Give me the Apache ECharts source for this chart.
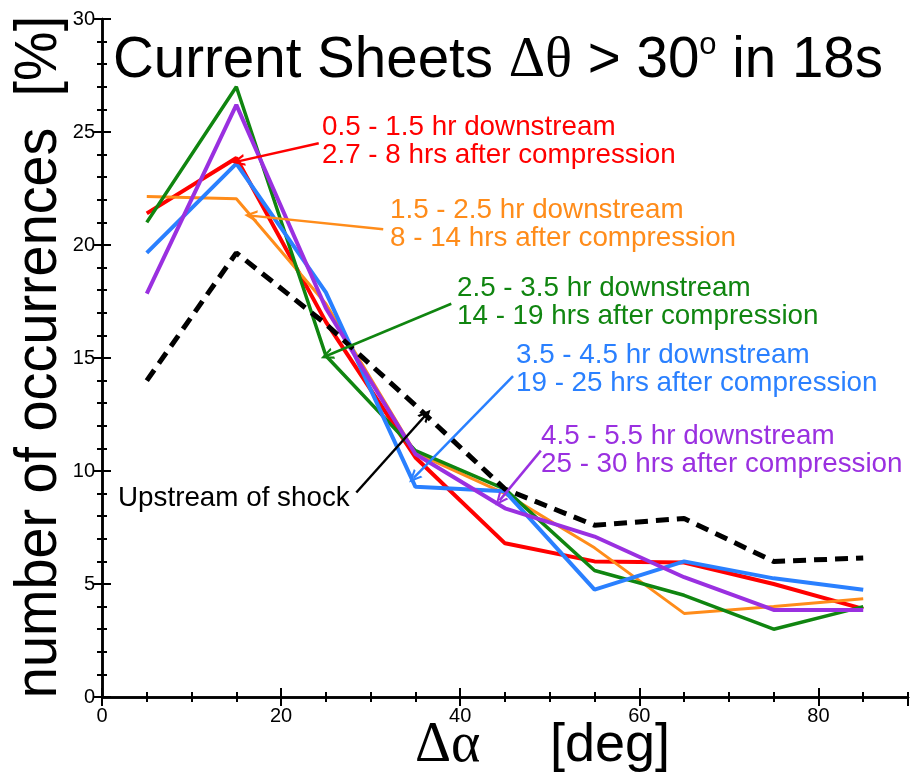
<!DOCTYPE html>
<html>
<head>
<meta charset="utf-8">
<script src="https://cdn.jsdelivr.net/npm/echarts@6/dist/echarts.min.js"></script>
<style>
html, body { margin: 0; padding: 0; background: #fff; }
#chart { width: 910px; height: 783px; }
</style>
</head>
<body>
<div id="chart"></div>
<script>
// bin centres of delta alpha [deg]
const angles = [5, 15, 25, 35, 45, 55, 65, 75, 85]

// occurrence [%] per bin
const red = [21.4, 23.85, 16.6, 10.6, 6.8, 6.0, 5.95, 5.0, 3.9]
const orange = [22.15, 22.05, 17.4, 10.8, 9.0, 6.6, 3.7, 4.0, 4.35]
const green = [21.0, 27.0, 15.1, 10.9, 9.2, 5.6, 4.5, 3.0, 4.0]
const blue = [19.65, 23.6, 17.9, 9.3, 9.1, 4.75, 6.0, 5.25, 4.75]
const purple = [17.85, 26.2, 17.2, 10.75, 8.35, 7.1, 5.3, 3.85, 3.85]
const upstream = [14.0, 19.65, 16.5, 12.9, 9.2, 7.6, 7.9, 6.0, 6.15]

const xTicks = [0, 20, 40, 60, 80]
const yTicks = [0, 5, 10, 15, 20, 25, 30]

const labelRed = ["0.5 - 1.5 hr downstream", "2.7 - 8 hrs after compression"]
const labelOrange = ["1.5 - 2.5 hr downstream", "8 - 14 hrs after compression"]
const labelGreen = ["2.5 - 3.5 hr downstream", "14 - 19 hrs after compression"]
const labelBlue = ["3.5 - 4.5 hr downstream", "19 - 25 hrs after compression"]
const labelPurple = ["4.5 - 5.5 hr downstream", "25 - 30 hrs after compression"]
const labelUpstream = "Upstream of shock"

const SANS = "'Liberation Sans', Arial, Helvetica, sans-serif"
const SERIF = "'Liberation Serif', 'Times New Roman', serif"
const V_HEAD = 'path://M5,0 L10,11 L8,11 L5,4 L2,11 L0,11 Z'

const pairs = vals => angles.map((a, i) => [a, vals[i]])

function arrow(from, to, color, width) {
    return {
        silent: true,
        symbol: ['none', V_HEAD],
        symbolSize: [12, 13],
        label: { show: false },
        lineStyle: { color: color, width: width, type: 'solid' },
        animation: false,
        data: [[{ coord: from }, { coord: to }]]
    }
}

function line(name, vals, color, width, from, to, dashed) {
    return {
        name: name,
        type: 'line',
        data: pairs(vals),
        showSymbol: false,
        animation: false,
        z: dashed ? 4 : 3,
        lineStyle: { color: color, width: width, type: dashed ? [13, 8] : 'solid', cap: 'butt' },
        markLine: arrow(from, to, color, 2.5)
    }
}

function note(lines, color, x, top) {
    return {
        type: 'text', x: x, y: top, silent: true,
        style: {
            text: Array.isArray(lines) ? lines.join('\n') : lines,
            fill: color, fontSize: 27.8, lineHeight: 28,
            fontFamily: SANS, align: 'left', verticalAlign: 'top'
        }
    }
}

const tickStyle = { color: '#000', width: 2 }
const border = { show: true, lineStyle: { color: '#000', width: 2.5 } }
// negative length turns the ticks toward the plot area
const bigTick = { inside: false, length: -9, lineStyle: tickStyle }
const smallTick = { inside: false, length: -5, lineStyle: tickStyle }

const major = (pos, showLabel) => ({
    type: 'value', gridIndex: 0, position: pos, min: 0, max: 90, interval: 20,
    axisLine: border,
    axisTick: bigTick,
    axisLabel: {
        show: showLabel, fontSize: 20, color: '#000', fontFamily: SANS, margin: 9,
        showMaxLabel: false,
        formatter: v => xTicks.includes(v) ? String(v) : ''
    },
    splitLine: { show: false }
})
const minor = pos => ({
    type: 'value', gridIndex: 1, position: pos, min: 0, max: 90, interval: 5,
    axisLine: { show: false },
    axisTick: smallTick,
    axisLabel: { show: false },
    splitLine: { show: false }
})
const yMain = (pos, showLabel) => ({
    type: 'value', gridIndex: 0, position: pos, min: 0, max: 30, interval: 5,
    axisLine: border,
    axisTick: bigTick,
    axisLabel: {
        show: showLabel, fontSize: 20, color: '#000', fontFamily: SANS, margin: 7,
        formatter: v => yTicks.includes(v) ? String(v) : ''
    },
    splitLine: { show: false }
})
const yMinor = pos => ({
    type: 'value', gridIndex: 1, position: pos, min: 0, max: 30, interval: 1,
    axisLine: { show: false },
    axisTick: smallTick,
    axisLabel: { show: false },
    splitLine: { show: false }
})

const chart = echarts.init(document.getElementById('chart'))
chart.setOption({
    backgroundColor: '#fff',
    animation: false,
    grid: [
        { left: 102, right: 2, top: 19, bottom: 86 },
        { left: 102, right: 2, top: 19, bottom: 86 }
    ],
    xAxis: [major('bottom', true), major('top', false), minor('bottom'), minor('top')],
    yAxis: [yMain('left', true), yMain('right', false), yMinor('left'), yMinor('right')],
    series: [
        line('0.5-1.5 hr', red, '#ff0000', 4, [24.2, 24.5], [15.2, 23.7], false),
        line('1.5-2.5 hr', orange, '#ff8c1a', 3, [31.4, 20.7], [16.6, 21.3], false),
        line('2.5-3.5 hr', green, '#108510', 3.5, [39.0, 17.4], [25.1, 15.1], false),
        line('3.5-4.5 hr', blue, '#2a80ff', 4, [45.9, 14.2], [34.8, 9.7], false),
        line('4.5-5.5 hr', purple, '#9a30e0', 4, [49.0, 10.9], [44.4, 8.7], false),
        line('Upstream', upstream, '#000', 5, [28.4, 9.05], [36.2, 12.5], true)
    ],
    graphic: [
        {
            type: 'text', x: 113, y: 61, silent: true,
            style: {
                text: '{a|Current Sheets }{g|Δθ}{a| > 30}{s|o}{a| in 18s}',
                fill: '#000', verticalAlign: 'middle', align: 'left',
                rich: {
                    a: { fontSize: 56.5, fontFamily: SANS, lineHeight: 62 },
                    g: { fontSize: 56.5, fontFamily: SERIF, lineHeight: 62 },
                    s: { fontSize: 31, fontFamily: SANS, lineHeight: 36, verticalAlign: 'top' }
                }
            }
        },
        {
            type: 'text', x: 39, y: 357, rotation: Math.PI / 2, scaleX: 0.93, silent: true,
            style: {
                text: 'number of occurrences  [%]', fill: '#000', fontSize: 60,
                fontFamily: SANS, align: 'center', verticalAlign: 'middle'
            }
        },
        {
            type: 'text', x: 415, y: 746, silent: true,
            style: { text: 'Δα', fill: '#000', fontSize: 56, fontFamily: SERIF, align: 'left', verticalAlign: 'middle' }
        },
        {
            type: 'text', x: 550, y: 746, silent: true,
            style: { text: '[deg]', fill: '#000', fontSize: 54, fontFamily: SANS, align: 'left', verticalAlign: 'middle' }
        },
        note(labelRed, '#ff0000', 322, 113.5),
        note(labelOrange, '#ff8c1a', 390, 196.5),
        note(labelGreen, '#108510', 457, 274.5),
        note(labelBlue, '#2a80ff', 516, 341.5),
        note(labelPurple, '#9a30e0', 541, 422.5),
        note(labelUpstream, '#000', 118, 484.5)
    ]
})
</script>
</body>
</html>
